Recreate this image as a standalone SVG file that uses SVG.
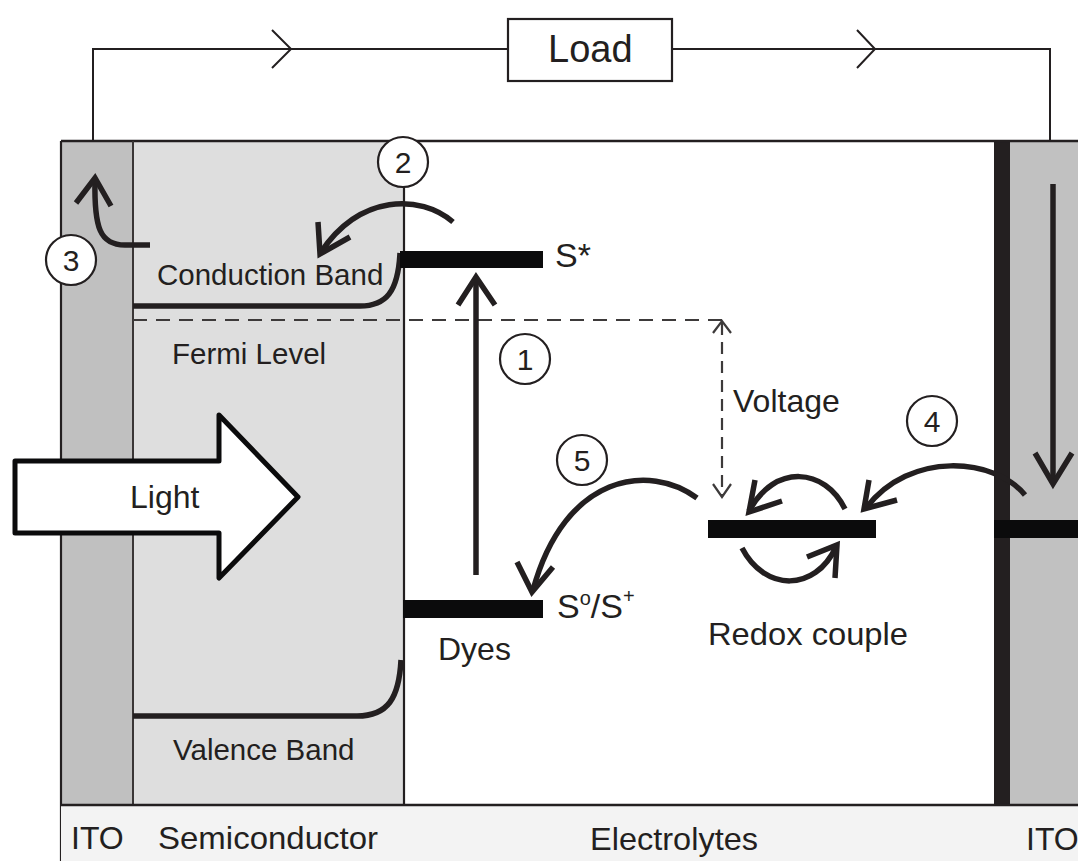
<svg xmlns="http://www.w3.org/2000/svg" width="1078" height="861" viewBox="0 0 1078 861">
<style>
text{font-family:"Liberation Sans",Arial,sans-serif;fill:#231f20}
.lbl{font-size:32px}
.sc{font-size:29.5px}
.num{font-size:30px;text-anchor:middle}
.circ{fill:#fff;stroke:#231f20;stroke-width:2.2}
.arr{fill:none;stroke:#231f20;stroke-width:5.5}
.thin{fill:none;stroke:#231f20;stroke-width:2}
.dash{fill:none;stroke:#3d3a3a;stroke-width:2.2;stroke-dasharray:14 9}
.bar{fill:#0b0b0c}
</style>
<rect width="1078" height="861" fill="#fff"/>

<g id="cell">
  <rect x="61" y="141" width="72" height="664" fill="#c0c0c0"/>
  <rect x="133" y="141" width="271" height="664" fill="#dedede"/>
  <rect x="1010" y="141" width="68" height="664" fill="#c1c1c1"/>
  <rect x="994" y="141" width="16" height="664" fill="#231f20"/>
  <line x1="61" y1="141" x2="1078" y2="141" stroke="#231f20" stroke-width="2.5"/>
  <line x1="133" y1="141" x2="133" y2="805" stroke="#3a3636" stroke-width="2"/>
  <line x1="404" y1="141" x2="404" y2="805" stroke="#231f20" stroke-width="2.2"/>
  <line x1="61" y1="141" x2="61" y2="861" stroke="#231f20" stroke-width="2.2"/>
</g>

<g id="bottom-band">
  <rect x="61" y="805" width="1017" height="56" fill="#f3f3f3"/>
  <line x1="61" y1="805" x2="1078" y2="805" stroke="#231f20" stroke-width="2.5"/>
  <text class="lbl" x="71" y="849" font-size="31">ITO</text>
  <text class="lbl" x="158" y="849" textLength="220" lengthAdjust="spacingAndGlyphs">Semiconductor</text>
  <text class="lbl" x="590" y="850" textLength="168" lengthAdjust="spacingAndGlyphs">Electrolytes</text>
  <text class="lbl" x="1026" y="850" font-size="30">ITO</text>
</g>

<g id="circuit">
  <polyline class="thin" points="93,141 93,49 508,49"/>
  <polyline class="thin" points="672,49 1050,49 1050,141"/>
  <polyline class="thin" points="272,30 291,49 272,68"/>
  <polyline class="thin" points="857,30 875,49 857,68"/>
</g>

<g id="load">
  <rect x="508" y="19" width="164" height="62" fill="#fff" stroke="#231f20" stroke-width="2.2"/>
  <text x="548" y="62" font-size="38">Load</text>
</g>

<g id="bands">
  <path class="arr" d="M133,306 H360 C386,306 398,292 400,253"/>
  <path class="arr" d="M133,716 H357 C388,716 399,698 401,660"/>
  <text class="sc" x="157" y="285">Conduction Band</text>
  <text class="sc" x="172" y="364">Fermi Level</text>
  <text class="sc" x="173" y="760">Valence Band</text>
</g>

<g id="fermi-voltage">
  <line class="dash" x1="133" y1="320" x2="722" y2="320"/>
  <line x1="722" y1="323" x2="722" y2="497" fill="none" stroke="#3d3a3a" stroke-width="2.2" stroke-dasharray="12 7"/>
  <polyline points="713,333 722,321 731,333" fill="none" stroke="#3d3a3a" stroke-width="2.2"/>
  <polyline points="713,484 722,497 731,484" fill="none" stroke="#3d3a3a" stroke-width="2.2"/>
  <text class="lbl" x="733" y="412">Voltage</text>
</g>

<g id="light">
  <polygon points="15,461 219,461 219,415 298,497 219,578 219,533 15,533" fill="#fff" stroke="#0b0b0c" stroke-width="5" stroke-linejoin="round"/>
  <text class="lbl" x="130" y="508">Light</text>
</g>

<g id="dye-levels">
  <rect class="bar" x="400" y="251" width="143" height="17"/>
  <rect class="bar" x="403" y="600" width="140" height="18"/>
  <text x="555" y="267" font-size="34">S*</text>
  <text x="557" y="618" font-size="34">S<tspan font-size="20" dy="-13">o</tspan><tspan dy="13">/S</tspan><tspan font-size="20" dy="-15">+</tspan></text>
  <text class="lbl" x="438" y="660">Dyes</text>
</g>

<g id="redox">
  <rect class="bar" x="708" y="520" width="168" height="18"/>
  <rect class="bar" x="994" y="520" width="84" height="18"/>
  <text class="lbl" x="708" y="645" textLength="200" lengthAdjust="spacingAndGlyphs">Redox couple</text>
</g>

<g id="connectors">
  <line class="arr" x1="476" y1="575" x2="476" y2="279"/>
  <polyline class="arr" points="458,305 476,277 495,305"/>
  <line class="arr" x1="1053" y1="184" x2="1053" y2="482"/>
  <polyline class="arr" points="1035,453 1053,484 1072,453"/>
  <path class="arr" d="M453,222 C420,194 360,194 321,252"/>
  <polyline class="arr" points="318,222 320,254 350,237"/>
  <path class="arr" d="M150,245 H125 C100,245 94,228 95,180"/>
  <polyline class="arr" points="76,203 95,178 111,206"/>
  <path class="arr" d="M1025,495 C995,458 910,450 866,508"/>
  <polyline class="arr" points="869,480 864,509 897,500"/>
  <path class="arr" d="M845,509 C825,468 775,463 749,511"/>
  <polyline class="arr" points="755,480 749,512 782,501"/>
  <path class="arr" d="M742,548 C765,592 815,592 836,547"/>
  <polyline class="arr" points="807,557 837,545 835,578"/>
  <path class="arr" d="M697,498 C650,463 565,473 533,590"/>
  <polyline class="arr" points="517,562 532,592 553,567"/>
</g>

<g id="step-1"><circle class="circ" cx="525" cy="359" r="25"/><text class="num" x="525" y="370">1</text></g>
<g id="step-2"><circle class="circ" cx="403" cy="162" r="25"/><text class="num" x="403" y="173">2</text></g>
<g id="step-3"><circle class="circ" cx="71" cy="260" r="25"/><text class="num" x="71" y="271">3</text></g>
<g id="step-4"><circle class="circ" cx="932" cy="421" r="25"/><text class="num" x="932" y="432">4</text></g>
<g id="step-5"><circle class="circ" cx="582" cy="460" r="25"/><text class="num" x="582" y="471">5</text></g>
</svg>
